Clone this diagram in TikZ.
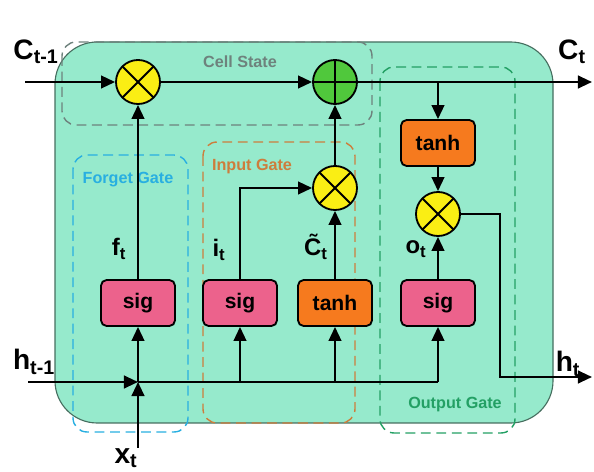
\documentclass[tikz,border=0pt]{standalone}
\usepackage{fontspec}
\setmainfont{Liberation Sans}
\usetikzlibrary{positioning, arrows.meta}
\definecolor{cellbg}{RGB}{150,234,204}
\definecolor{celledge}{RGB}{70,110,95}
\definecolor{sigpink}{RGB}{236,98,140}
\definecolor{tanhorange}{RGB}{246,122,30}
\definecolor{mulyellow}{RGB}{250,238,20}
\definecolor{addgreen}{RGB}{80,200,60}
\definecolor{forgetcol}{RGB}{40,175,225}
\definecolor{inputcol}{RGB}{205,125,60}
\definecolor{outputcol}{RGB}{35,160,100}
\definecolor{statecol}{RGB}{110,130,125}
\tikzset{
	gate/.style={draw, rectangle, rounded corners=4pt, line width=1.3pt, minimum width=1.85cm, minimum height=1.15cm, font=\fontsize{15}{17}\selectfont\bfseries},
	sigbox/.style={gate, fill=sigpink},
	tanhbox/.style={gate, fill=tanhorange},
	to/.style={->, >={Triangle[length=10pt,width=9pt]}, line width=1.6pt}
}
\newcommand{\lbl}[2]{\bfseries #1\textsubscript{#2}}

\begin{document}
\begin{tikzpicture}[
				x=0.025cm, y=-0.025cm,
				op/.style={
					draw,
					circle,
					line width=1.3pt,
					minimum size=1.1cm,
					inner sep=0pt
				},
				mul/.style={op, fill=mulyellow,
					path picture={\draw[line width=1.3pt] (path picture bounding box.north west) -- (path picture bounding box.south east) (path picture bounding box.north east) -- (path picture bounding box.south west);}},
				add/.style={op, fill=addgreen,
					path picture={\draw[line width=1.3pt] (path picture bounding box.north) -- (path picture bounding box.south) (path picture bounding box.west) -- (path picture bounding box.east);}},
				region/.style={dashed, dash pattern=on 7pt off 4pt, line width=1pt, rounded corners=10pt},
				tag/.style={font=\fontsize{11.5}{13}\selectfont\bfseries},
				var/.style={font=\fontsize{20}{22}\selectfont},
				sub/.style={font=\fontsize{17}{19}\selectfont}
				]
				
				\useasboundingbox (0,0) rectangle (594,472);
				
				% cell body and gate regions
				\draw[fill=cellbg, draw=celledge, line width=0.8pt, rounded corners=30pt] (55,42) rectangle (553,423);
				\draw[region, draw=statecol] (62,42) rectangle (372,125);
				\draw[region, draw=forgetcol] (73,155) rectangle (188,432);
				\draw[region, draw=inputcol] (203,142) rectangle (355,423);
				\draw[region, draw=outputcol] (380,67) rectangle (515,433);
				
				\node[tag, text=statecol] (tstate) at (240,62) {Cell State};
				\node[tag, text=forgetcol] (tforget) at (128,180) {Forget Gate};
				\node[tag, text=inputcol] (tinput) at (252,167) {Input Gate};
				\node[tag, text=outputcol] (toutput) at (455,405) {Output Gate};
				
				% operations
				\node[mul] (m1) at (138,82) {};
				\node[add] (p1) at (335,82) {};
				\node[mul] (m2) at (335,188) {};
				\node[mul] (m3) at (438,214) {};
				\node[tanhbox] (th2) at (438,143) {tanh};
				
				\node[sigbox] (sf) at (138,303) {sig};
				\node[sigbox] (si) at (240,303) {sig};
				\node[tanhbox] (tc) at (335,303) {tanh};
				\node[sigbox] (so) at (438,303) {sig};
				
				% labels
				\node[var] (lcin) at (36,52) {\lbl{C}{t-1}};
				\node[var] (lcout) at (572,52) {\lbl{C}{t}};
				\node[var] (lhin) at (34,362) {\lbl{h}{t-1}};
				\node[var] (lhout) at (568,364) {\lbl{h}{t}};
				\node[var] (lx) at (126,458) {\lbl{x}{t}};
				\node[sub] (lf) at (119,249) {\lbl{f}{t}};
				\node[sub] (li) at (219,250) {\lbl{i}{t}};
				\node[sub] (lc) at (316,247) {\lbl{\~C}{t}};
				\node[sub] (lo) at (416,249) {\lbl{o}{t}};
				
				\coordinate (cin) at (25,82);
				\coordinate (cout) at (592,82);
				\coordinate (hin) at (28,382);
				\coordinate (xin) at (138,448);
				\coordinate (join) at (138,382);
				\coordinate (hend) at (438,382);
				\coordinate (bend) at (500,214);
				\coordinate (hout) at (592,377);
				
				% cell state line
				\draw[to] (cin) -- (m1);
				\draw[to] (m1) -- (p1);
				\draw[to] (p1) -- (cout);
				\draw[to] (th2 |- p1) -- (th2);
				\draw[to] (th2) -- (m3);
				
				% hidden state and input
				\draw[to] (hin) -- (join);
				\draw[to] (xin) -- (join);
				\draw[line width=1.6pt] (join) -- (hend);
				\draw[to] (join) -- (sf);
				\draw[to] (si |- join) -- (si);
				\draw[to] (tc |- join) -- (tc);
				\draw[to] (hend) -- (so);
				
				% gates
				\draw[to] (sf) -- (m1);
				\draw[to] (si.north) |- (m2);
				\draw[to] (tc) -- (m2);
				\draw[to] (m2) -- (p1);
				\draw[to] (so) -- (m3);
				\draw[to] (m3) -- (bend) |- (hout);
				
			\end{tikzpicture}
\end{document}
